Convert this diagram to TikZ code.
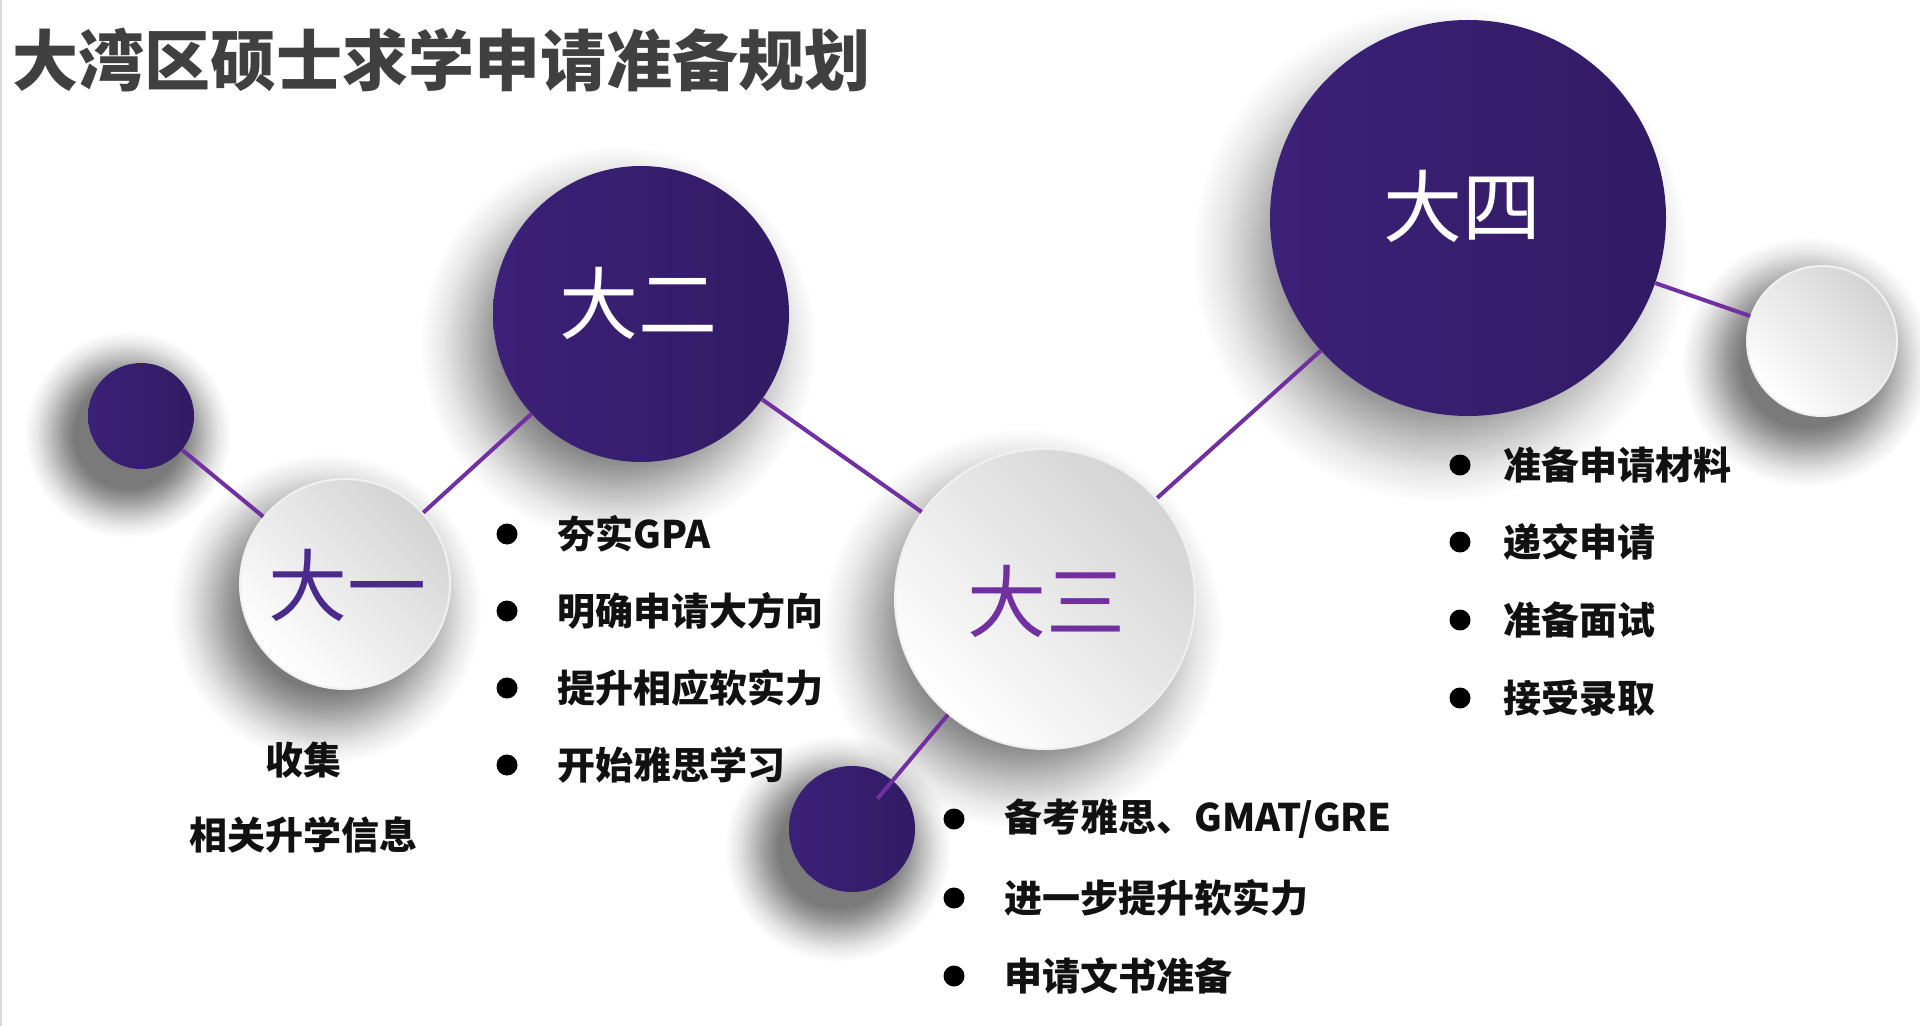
\documentclass[tikz,border=0pt]{standalone}
\usepackage{fontspec}
\newfontfamily\cjk{Noto Sans CJK SC}
\usetikzlibrary{fadings}
\definecolor{deep}{HTML}{391E6E}
\definecolor{deepl}{HTML}{3C2178}
\definecolor{deepr}{HTML}{321B64}
\definecolor{linec}{HTML}{7030A0}
\definecolor{txone}{HTML}{4A2B8C}
\definecolor{txthree}{HTML}{7030A0}
\definecolor{titlec}{HTML}{404040}
\definecolor{listc}{HTML}{111111}
\pgfdeclareradialshading{softshadowshade}{\pgfpointorigin}{color(0bp)=(pgftransparent!0); color(13bp)=(pgftransparent!0); color(16bp)=(pgftransparent!25); color(19bp)=(pgftransparent!55); color(22bp)=(pgftransparent!82); color(25bp)=(pgftransparent!100); color(50bp)=(pgftransparent!100)}
\pgfdeclarefading{softshadow}{\pgfuseshading{softshadowshade}}
\newcommand\circshadow[3]{\fill[black, opacity=0.52, path fading=softshadow] ({#1-0.1*#3-8},{#2+0.12*#3+12}) circle ({#3+50});}
\tikzset{
  purplecirc/.style={circle, left color=deepl, right color=deepr, draw=none, inner sep=0pt},
  whitecirc/.style={circle, top color=black!17, bottom color=white, shading angle=-45, draw=white!94!black, line width=1pt, inner sep=0pt},
  conn/.style={draw=linec, line width=2pt},
  yearbig/.style={font=\cjk\fontsize{39.5}{42}\selectfont, text=white, inner sep=0pt},
  listtext/.style={font=\cjk\bfseries\fontsize{19}{22}\selectfont, text=listc, anchor=west, inner sep=0pt},
  plaintext/.style={font=\cjk\bfseries\fontsize{19}{22}\selectfont, text=listc, inner sep=0pt},
  dot/.style={circle, fill=black, minimum size=10.5pt, inner sep=0pt},
}
\begin{document}
\begin{tikzpicture}[x=0.5pt,y=-0.5pt]
\useasboundingbox (0,0) rectangle (1920,1026);
\fill[white] (0,0) rectangle (1920,1026);
\draw[black!15, line width=1pt] (1,0) -- (1,1026);

% title
\node[anchor=west, inner sep=0pt, text=titlec, font=\cjk\bfseries\fontsize{33}{36}\selectfont] (title) at (12,60) {大湾区硕士求学申请准备规划};

% shadows
\circshadow{141}{416}{53}
\circshadow{345}{584}{105}
\circshadow{641}{314}{148}
\circshadow{1045}{599}{150}
\circshadow{852}{829}{63}
\circshadow{1468}{218}{198}
\circshadow{1822}{341}{75}

% circles
\node[purplecirc, minimum size=53pt] (s1) at (141,416) {};
\node[whitecirc, minimum size=105pt] (d1) at (345,584) {};
\node[purplecirc, minimum size=148pt] (d2) at (641,314) {};
\node[whitecirc, minimum size=150pt] (d3) at (1045,599) {};
\node[purplecirc, minimum size=63pt] (s2) at (852,829) {};
\node[purplecirc, minimum size=198pt] (d4) at (1468,218) {};
\node[whitecirc, minimum size=75pt] (s3) at (1822,341) {};

% connectors
\draw[conn] (s1) -- (d1);
\draw[conn] (d1) -- (d2);
\draw[conn] (d2) -- (d3);
\draw[conn] (d3) -- (d4);
\draw[conn] (d4) -- (s3);
\draw[conn, shorten >=-12pt] (d3) -- (s2);

% circle labels
\node[font=\cjk\fontsize{39.5}{42}\selectfont, text=txone, inner sep=0pt] (l1) at (347,585) {大一};
\node[yearbig] (l2) at (638,303) {大二};
\node[font=\cjk\fontsize{39.5}{42}\selectfont, text=txthree, inner sep=0pt] (l3) at (1046,601) {大三};
\node[yearbig] (l4) at (1462,206) {大四};

% year 1 text
\node[plaintext] (c1) at (303,760) {收集};
\node[plaintext] (c2) at (303,835) {相关升学信息};

% year 2 list
\node[dot] (b21) at (507,534) {};
\node[listtext] (t21) at (557,534) {夯实GPA};
\node[dot] (b22) at (507,611) {};
\node[listtext] (t22) at (557,611) {明确申请大方向};
\node[dot] (b23) at (507,688) {};
\node[listtext] (t23) at (557,688) {提升相应软实力};
\node[dot] (b24) at (507,765) {};
\node[listtext] (t24) at (557,765) {开始雅思学习};

% year 3 list
\node[dot] (b31) at (954,819) {};
\node[listtext] (t31) at (1004,819) {备考雅思、GMAT/GRE};
\node[dot] (b32) at (954,898) {};
\node[listtext] (t32) at (1004,898) {进一步提升软实力};
\node[dot] (b33) at (954,976) {};
\node[listtext] (t33) at (1004,976) {申请文书准备};

% year 4 list
\node[dot] (b41) at (1460,465) {};
\node[listtext] (t41) at (1503,465) {准备申请材料};
\node[dot] (b42) at (1460,542) {};
\node[listtext] (t42) at (1503,542) {递交申请};
\node[dot] (b43) at (1460,620) {};
\node[listtext] (t43) at (1503,620) {准备面试};
\node[dot] (b44) at (1460,698) {};
\node[listtext] (t44) at (1503,698) {接受录取};
\end{tikzpicture}
\end{document}
